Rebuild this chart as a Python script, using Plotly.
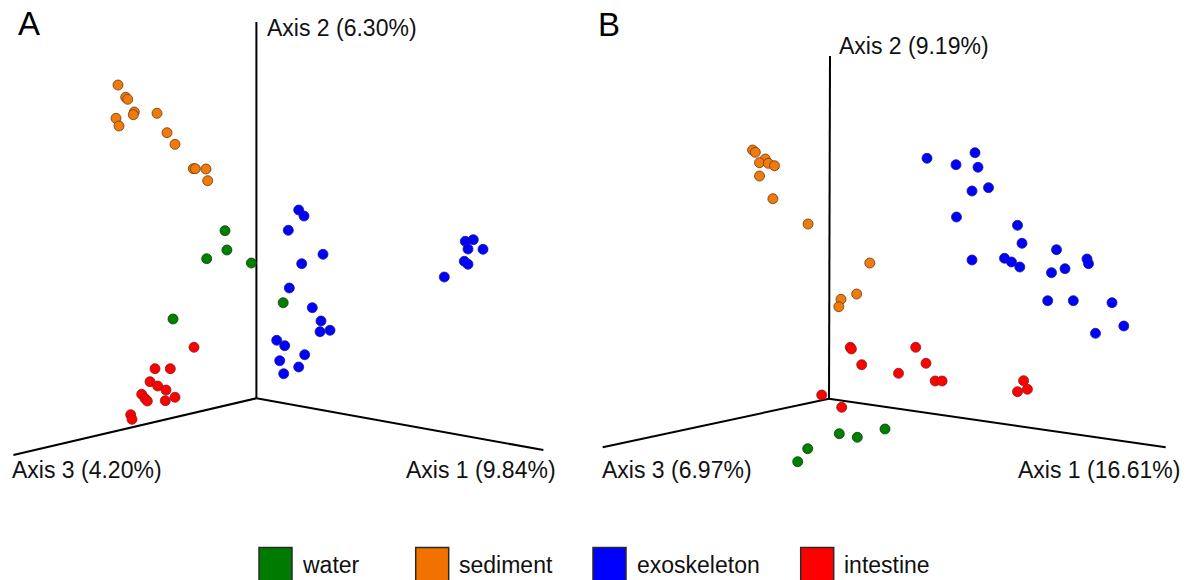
import plotly.graph_objects as go

# ---------------- data (projected PCoA coordinates) ----------------
groups = ["water", "sediment", "exoskeleton", "intestine"]
colors = {"water": "#008000", "sediment": "#F07A0A", "exoskeleton": "#0000FF", "intestine": "#FF0000"}
edges = {"water": "#0B3D0B", "sediment": "#6B3A10", "exoskeleton": "#1A1A8C", "intestine": "#8C1A1A"}
legend_colors = {"water": "#007A00", "sediment": "#F27200", "exoskeleton": "#0000FF", "intestine": "#FF0000"}

# Panel A
A_water_x = [225.0, 226.9, 206.7, 251.4, 283.2, 173.0]
A_water_y = [230.7, 250.0, 258.7, 263.0, 302.7, 319.0]
A_sed_x = [118.0, 125.7, 127.7, 134.3, 133.3, 157.0, 116.0, 119.0, 167.0, 175.0, 193.3, 195.3, 206.0, 207.7]
A_sed_y = [85.0, 97.3, 99.3, 112.0, 114.7, 113.3, 118.3, 126.0, 132.7, 144.3, 168.7, 168.7, 169.0, 180.7]
A_exo_x = [298.7, 304.0, 288.3, 323.0, 301.7, 289.3, 312.3, 321.0, 320.0, 330.0, 276.7, 284.7, 304.7,
           279.7, 298.7, 283.7, 465.3, 473.3, 468.0, 483.0, 464.3, 468.0, 444.3]
A_exo_y = [210.0, 216.0, 230.3, 254.3, 263.7, 288.0, 307.7, 321.0, 331.7, 330.3, 340.3, 345.7, 354.7,
           360.7, 367.0, 373.7, 241.3, 239.7, 249.0, 249.3, 261.3, 264.3, 277.0]
A_int_x = [194.0, 155.0, 170.3, 150.0, 157.7, 166.0, 141.7, 145.0, 147.3, 165.3, 175.0, 130.7, 132.0]
A_int_y = [347.3, 368.7, 368.7, 381.7, 386.0, 390.0, 394.3, 398.5, 401.0, 400.7, 397.3, 414.7, 419.3]

# Panel B
B_water_x = [885.0, 839.3, 857.3, 807.7, 797.7]
B_water_y = [429.0, 433.7, 437.3, 448.7, 461.7]
B_sed_x = [752.6, 755.3, 765.3, 759.5, 768.3, 774.5, 759.5, 772.9, 808.1, 869.8, 856.7, 841.0, 838.8]
B_sed_y = [150.0, 152.3, 159.0, 162.7, 163.3, 165.7, 176.0, 198.7, 224.0, 263.0, 294.0, 299.3, 306.7]
B_exo_x = [927.0, 975.0, 956.0, 978.0, 988.5, 972.0, 956.5, 1017.5, 1022.0, 1056.5, 972.0, 1004.5, 1011.5,
           1019.8, 1087.0, 1088.5, 1065.0, 1051.5, 1047.7, 1073.3, 1112.0, 1123.8, 1095.5]
B_exo_y = [158.3, 152.7, 164.7, 167.3, 187.7, 191.0, 217.0, 225.3, 243.3, 249.7, 260.0, 258.3, 262.0,
           267.0, 259.0, 263.7, 268.7, 272.7, 300.7, 300.7, 302.7, 326.0, 333.3]
B_int_x = [850.3, 851.4, 915.7, 861.7, 926.0, 898.5, 935.2, 942.1, 1023.6, 1017.5, 1027.4, 821.7, 841.7]
B_int_y = [347.3, 349.0, 347.3, 364.7, 363.3, 373.3, 381.0, 381.0, 380.7, 391.7, 389.3, 395.0, 407.3]

# Axis frames (origin and three axis ends) and labels
A_axes = {"origin": (256.4, 398.3), "ax1": (543.4, 450.0), "ax2": (256.4, 22.0), "ax3": (13.4, 455.0)}
B_axes = {"origin": (829.0, 398.7), "ax1": (1165.7, 447.3), "ax2": (830.0, 56.0), "ax3": (602.7, 447.3)}
A_labels = ["Axis 1 (9.84%)", "Axis 2 (6.30%)", "Axis 3 (4.20%)"]
B_labels = ["Axis 1 (16.61%)", "Axis 2 (9.19%)", "Axis 3 (6.97%)"]

panels = [
    ("A", A_axes, A_labels, {"water": (A_water_x, A_water_y), "sediment": (A_sed_x, A_sed_y),
                             "exoskeleton": (A_exo_x, A_exo_y), "intestine": (A_int_x, A_int_y)}),
    ("B", B_axes, B_labels, {"water": (B_water_x, B_water_y), "sediment": (B_sed_x, B_sed_y),
                             "exoskeleton": (B_exo_x, B_exo_y), "intestine": (B_int_x, B_int_y)}),
]

W, H = 1187, 580
FONT = "Liberation Sans, Arial, sans-serif"

fig = go.Figure()

label_pos = {
    "A": {"letter": (16.0, 23.0), "ax1": (404.0, 470.0), "ax2": (265.0, 28.0), "ax3": (10.0, 470.0)},
    "B": {"letter": (596.0, 24.0), "ax1": (1015.5, 470.0), "ax2": (836.5, 46.0), "ax3": (600.0, 470.0)},
}

annotations = []
for name, axes, labels, data in panels:
    o = axes["origin"]
    for key in ["ax1", "ax2", "ax3"]:
        e = axes[key]
        fig.add_trace(go.Scatter(x=[o[0], e[0]], y=[o[1], e[1]], mode="lines",
                                 line=dict(color="black", width=2), hoverinfo="skip", showlegend=False))
    for g in groups:
        xs, ys = data[g]
        fig.add_trace(go.Scatter(x=xs, y=ys, mode="markers", name=g, showlegend=False,
                                 marker=dict(size=10, color=colors[g], line=dict(color=edges[g], width=0.8))))
    lp = label_pos[name]
    annotations.append(dict(x=lp["letter"][0], y=lp["letter"][1], text=name, showarrow=False,
                            xanchor="left", yanchor="middle", font=dict(size=33, color="black", family=FONT)))
    for i, key in enumerate(["ax1", "ax2", "ax3"]):
        annotations.append(dict(x=lp[key][0], y=lp[key][1], text=labels[i], showarrow=False,
                                xanchor="left", yanchor="middle",
                                font=dict(size=23, color="#111111", family=FONT)))

# Legend (boxes + text)
legend_box_x = [259.0, 415.7, 593.0, 800.7]
legend_text_x = [300.0, 456.7, 635.0, 842.3]
shapes = []
for i, g in enumerate(groups):
    shapes.append(dict(type="rect", xref="x", yref="y", x0=legend_box_x[i], x1=legend_box_x[i] + 33,
                       y0=547.5, y1=582, fillcolor=legend_colors[g],
                       line=dict(color="#2a2a2a", width=1.5)))
    annotations.append(dict(x=legend_text_x[i], y=565, text=g, showarrow=False, xanchor="left",
                            yanchor="middle", font=dict(size=23, color="#111111", family=FONT)))

fig.update_layout(
    width=W, height=H, autosize=False,
    margin=dict(l=0, r=0, t=0, b=0),
    paper_bgcolor="white", plot_bgcolor="white",
    xaxis=dict(range=[0, W], visible=False, fixedrange=True),
    yaxis=dict(range=[H, 0], visible=False, fixedrange=True),
    annotations=annotations, shapes=shapes, showlegend=False,
)

fig.write_html(
    "out.html",
    config={"displayModeBar": False, "staticPlot": True},
    post_script="document.body.style.margin='0';document.body.style.padding='0';"
                "document.body.style.overflow='hidden';document.documentElement.style.overflow='hidden';",
)
